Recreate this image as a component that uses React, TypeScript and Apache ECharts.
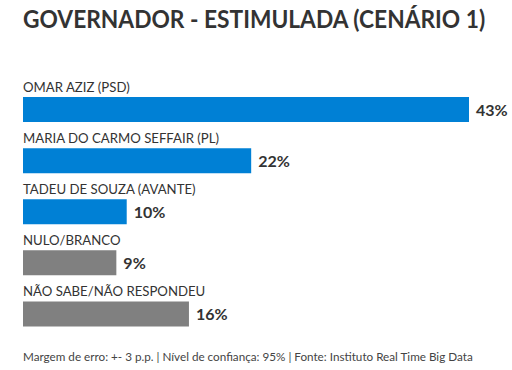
import React, { useEffect, useRef } from "react";
import * as echarts from "echarts";

const categories = [
  "OMAR AZIZ (PSD)",
  "MARIA DO CARMO SEFFAIR (PL)",
  "TADEU DE SOUZA (AVANTE)",
  "NULO/BRANCO",
  "NÃO SABE/NÃO RESPONDEU",
];
const values = [43, 22, 10, 9, 16];
const barColors = ["#0080d5", "#0080d5", "#0080d5", "#808080", "#808080"];
const titleText = "GOVERNADOR - ESTIMULADA (CENÁRIO 1)";
const footerText =
  "Margem de erro: +- 3 p.p. | Nível de confiança: 95% | Fonte: Instituto Real Time Big Data";

const FONT = "Lato, 'Open Sans', sans-serif";

export default function App() {
  const ref = useRef<HTMLDivElement>(null);
  useEffect(() => {
    if (!ref.current) return;
    const chart = echarts.init(ref.current, undefined, { renderer: "svg" });
    chart.setOption({
      animation: false,
      backgroundColor: "#ffffff",
      graphic: [
        {
          type: "text",
          x: 23,
          y: 6,
          scaleX: 0.91,
          style: {
            text: titleText,
            fontFamily: FONT,
            fontWeight: "bold",
            fontSize: 25,
            fill: "#333333",
          },
        },
        {
          type: "text",
          left: 23,
          top: 350,
          style: {
            text: footerText,
            fontFamily: FONT,
            fontSize: 11.7,
            fill: "#444444",
          },
        },
      ],
      grid: { left: 23, right: 43, top: 84, bottom: 30.5 },
      xAxis: { type: "value", min: 0, max: 43, show: false },
      yAxis: {
        type: "category",
        data: categories,
        inverse: true,
        show: false,
      },
      series: [
        {
          type: "bar",
          barWidth: 25,
          data: values.map((v, i) => ({
            value: v,
            itemStyle: { color: barColors[i] },
          })),
          label: {
            show: true,
            position: "right",
            distance: 7,
            formatter: "{c}%",
            fontFamily: FONT,
            fontWeight: "bold",
            fontSize: 16,
            color: "#333333",
          },
        },
        {
          type: "bar",
          barWidth: 25,
          barGap: "-100%",
          silent: true,
          itemStyle: { color: "rgba(0,0,0,0)" },
          data: values,
          label: {
            show: true,
            position: [0, -17],
            formatter: (p: any) => categories[p.dataIndex],
            fontFamily: FONT,
            fontSize: 13.2,
            color: "#333333",
          },
        },
      ],
    });
    return () => chart.dispose();
  }, []);
  return (
    <div
      ref={ref}
      style={{ position: "fixed", left: 0, top: 0, width: 512, height: 370 }}
    />
  );
}
